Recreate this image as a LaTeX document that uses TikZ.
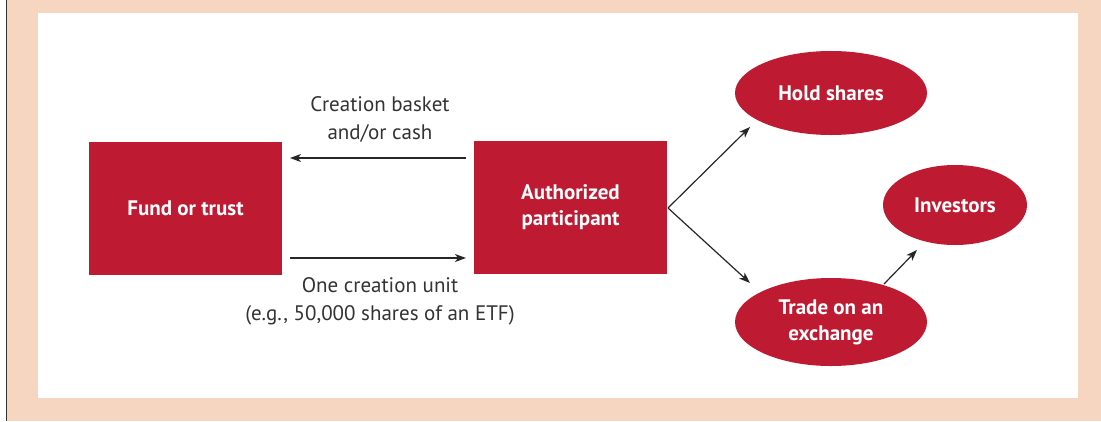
\documentclass[tikz,border=0pt]{standalone}
\usepackage{fontspec}
\setmainfont{PT Sans}
\usetikzlibrary{arrows.meta,shapes.geometric}
\definecolor{peach}{HTML}{F6D6C0}
\definecolor{etfred}{HTML}{BE1A32}
\definecolor{txt}{HTML}{333333}
\tikzset{
  redbox/.style={fill=etfred,draw=none,minimum width=193pt,minimum height=133pt,inner sep=0pt,text=white,font=\fontsize{21}{26}\selectfont\bfseries,align=center},
  redell/.style={ellipse,fill=etfred,draw=none,inner sep=0pt,text=white,font=\fontsize{21}{26}\selectfont\bfseries,align=center},
  lbl/.style={text=txt,font=\fontsize{21}{28}\selectfont,align=center,inner sep=0pt},
  conn/.style={draw=black!85,line width=1.2pt,-{Stealth[length=11pt,width=8pt,inset=3pt]}}
}
\begin{document}
\begin{tikzpicture}[x=1pt,y=-1pt]
\useasboundingbox (0,0) rectangle (1101,421);
\fill[peach] (7,0) rectangle (1101,421);
\draw[black!80,line width=1.5pt] (6.5,0) -- (6.5,421);
\fill[white] (38,13) rectangle (1078,398);
\node[redbox] (fund) at (185.5,208.5) {Fund or trust};
\node[redbox] (ap) at (570.5,207.5) {Authorized\\participant};
\node[redell,minimum width=192pt,minimum height=84pt] (hold) at (831,93) {Hold shares};
\node[redell,minimum width=144pt,minimum height=80pt] (inv) at (955,205) {Investors};
\node[redell,minimum width=192pt,minimum height=88pt] (trade) at (831,322) {Trade on an\\exchange};
\coordinate (t1) at (466,158);
\coordinate (t2) at (290,158);
\coordinate (b1) at (290,258);
\coordinate (b2) at (466,258);
\draw[conn] (t1) -- (t2);
\draw[conn] (b1) -- (b2);
\node[lbl] (clbl) at (380,119) {Creation basket\\and/or cash};
\node[lbl] (olbl) at (380,301) {One creation unit\\(e.g., 50,000 shares of an ETF)};
\coordinate (apr) at (668,208);
\coordinate (h1) at (750,127);
\coordinate (tr1) at (750,283);
\draw[conn] (apr) -- (h1);
\draw[conn] (apr) -- (tr1);
\coordinate (i0) at (884,284);
\coordinate (i1) at (917,250);
\draw[conn] (i0) -- (i1);
\end{tikzpicture}
\end{document}
